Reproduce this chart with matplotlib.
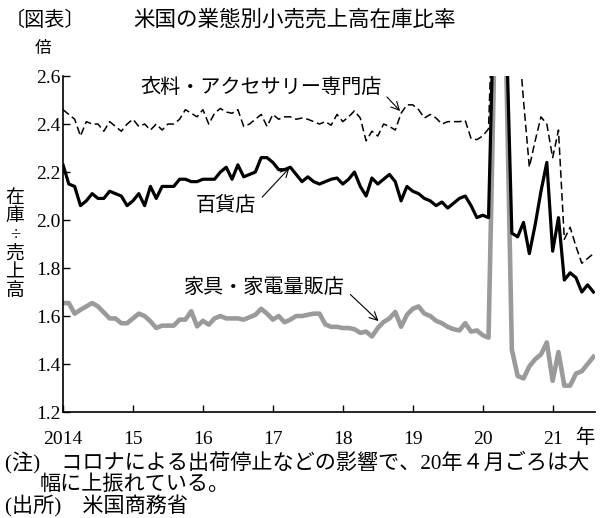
import numpy as np
import matplotlib
matplotlib.use("Agg")
import matplotlib.pyplot as plt

plt.rcParams['font.family'] = ['Liberation Serif', 'Noto Sans CJK JP']

# months from Jan 2014 (index 0) to Aug 2021 (index 91)
year_labels = ['2014', '15', '16', '17', '18', '19', '20', '21']

# 衣料・アクセサリー専門店
clothing = [
    2.46, 2.44, 2.42, 2.35, 2.41, 2.40, 2.40, 2.37, 2.41, 2.39, 2.37, 2.40,
    2.42, 2.39, 2.40, 2.375, 2.40, 2.375, 2.40, 2.40, 2.42, 2.46, 2.445, 2.43,
    2.46, 2.40, 2.445, 2.465, 2.45, 2.445, 2.46, 2.39, 2.40, 2.42, 2.44, 2.39,
    2.44, 2.42, 2.43, 2.43, 2.42, 2.425, 2.42, 2.41, 2.40, 2.41, 2.395, 2.44,
    2.41, 2.43, 2.455, 2.425, 2.33, 2.37, 2.35, 2.40, 2.39, 2.375, 2.445, 2.48,
    2.48, 2.46, 2.425, 2.44, 2.425, 2.40, 2.41, 2.41, 2.41, 2.415, 2.34, 2.335,
    2.35, 2.38, 3.1, 6.0, 4.5, 3.2, 2.8, 2.5, 2.22, 2.33, 2.43, 2.40,
    2.26, 2.375, 1.92, 1.97, 1.89, 1.82, 1.84, 1.86,
]

# 百貨店
department = [
    2.23, 2.15, 2.14, 2.06, 2.08, 2.11, 2.09, 2.09, 2.12, 2.11, 2.10, 2.06,
    2.08, 2.11, 2.06, 2.14, 2.09, 2.14, 2.14, 2.14, 2.17, 2.17, 2.16, 2.16,
    2.17, 2.17, 2.17, 2.20, 2.22, 2.17, 2.23, 2.18, 2.19, 2.20, 2.26, 2.26,
    2.24, 2.21, 2.21, 2.22, 2.19, 2.16, 2.18, 2.16, 2.15, 2.16, 2.17, 2.175,
    2.15, 2.17, 2.20, 2.14, 2.10, 2.175, 2.15, 2.17, 2.19, 2.16, 2.08, 2.14,
    2.12, 2.11, 2.09, 2.08, 2.06, 2.075, 2.05, 2.07, 2.09, 2.10, 2.06, 2.01,
    2.02, 2.01, 3.0, 3.6, 2.85, 1.945, 1.93, 1.99, 1.86, 1.98, 2.12, 2.24,
    1.87, 2.01, 1.75, 1.78, 1.76, 1.70, 1.73, 1.70,
]

# 家具・家電量販店
furniture = [
    1.654, 1.654, 1.61, 1.626, 1.64, 1.654, 1.64, 1.615, 1.59, 1.59, 1.57, 1.57,
    1.59, 1.61, 1.60, 1.578, 1.55, 1.56, 1.56, 1.56, 1.585, 1.585, 1.62, 1.557,
    1.58, 1.564, 1.59, 1.60, 1.59, 1.59, 1.59, 1.585, 1.595, 1.605, 1.63, 1.61,
    1.585, 1.60, 1.574, 1.585, 1.60, 1.60, 1.605, 1.61, 1.61, 1.565, 1.555, 1.555,
    1.55, 1.55, 1.545, 1.53, 1.535, 1.515, 1.55, 1.575, 1.59, 1.617, 1.555, 1.605,
    1.63, 1.64, 1.61, 1.60, 1.58, 1.57, 1.555, 1.545, 1.54, 1.57, 1.535, 1.54,
    1.52, 1.51, 2.7, 4.2, 2.7, 1.46, 1.35, 1.34, 1.39, 1.42, 1.44, 1.49,
    1.33, 1.45, 1.31, 1.31, 1.36, 1.37, 1.40, 1.43,
]

months = np.arange(len(department))

fig = plt.figure(figsize=(6.0, 5.18), dpi=100)
ax = fig.add_axes([0.105, 0.2046, 0.887, 0.6486])

ax.plot(months, furniture, color='#9a9a9a', lw=3.3, solid_joinstyle='round')
ax.plot(months, department, color='black', lw=2.3, solid_joinstyle='round')
ax.plot(months, clothing, color='black', lw=1.1, ls=(0, (5, 2.5)))

ax.set_xlim(0, 91.3)
ax.set_ylim(1.2, 2.6)
ax.set_yticks(np.arange(1.2, 2.61, 0.2))
ax.set_yticklabels([f'{v:.1f}' for v in np.arange(1.2, 2.61, 0.2)])
ax.set_xticks(np.arange(0, 85, 12))
ax.set_xticklabels(year_labels)

for s in ['top', 'right']:
    ax.spines[s].set_visible(False)
for s in ['left', 'bottom']:
    ax.spines[s].set_linewidth(1.2)
ax.tick_params(direction='in', length=5, width=1, labelsize=14)
ax.tick_params(axis='x', pad=14)
ax.tick_params(axis='y', pad=2)


def to_val(ypx):
    # pixel row in the 518px picture -> data value
    return 2.6 - (ypx - 76) / 240


arrow = dict(arrowstyle='->', color='black', lw=0.8, shrinkA=3, shrinkB=1)

# annotations
ax.annotate('衣料・アクセサリー専門店', xy=(58.0, to_val(112)),
            xytext=(54.6, to_val(88)), ha='right', va='center', fontsize=14.5,
            arrowprops=dict(arrow, relpos=(1.0, 0.35)))
ax.annotate('百貨店', xy=(39, to_val(167)),
            xytext=(33.2, to_val(206)), ha='right', va='center', fontsize=14.5,
            arrowprops=dict(arrow, relpos=(1.0, 0.65)))
ax.annotate('家具・家電量販店', xy=(54.3, to_val(322)),
            xytext=(48.3, to_val(288)), ha='right', va='center', fontsize=14.5,
            arrowprops=dict(arrow, relpos=(1.0, 0.45)))

# titles and labels
fig.text(0.008, 0.958, '〔図表〕', fontsize=14.5, va='center', ha='left')
fig.text(0.49, 0.961, '米国の業態別小売売上高在庫比率', fontsize=15.5, va='center', ha='center')
fig.text(0.072, 0.905, '倍', fontsize=12, va='center', ha='center')
fig.text(0.025, 0.527, '在\n庫\n÷\n売\n上\n高', fontsize=13.5, va='center', ha='center',
         linespacing=1.12)
fig.text(0.975, 0.155, '年', fontsize=14, va='center', ha='center')

fig.text(0.008, 0.108, '(注)　コロナによる出荷停止などの影響で、20年４月ごろは大',
         fontsize=15.2, va='center', ha='left')
fig.text(0.066, 0.064, '幅に上振れている。', fontsize=15.2, va='center', ha='left')
fig.text(0.008, 0.022, '(出所)　米国商務省', fontsize=15.2, va='center', ha='left')

fig.savefig('out.png', dpi=100)
